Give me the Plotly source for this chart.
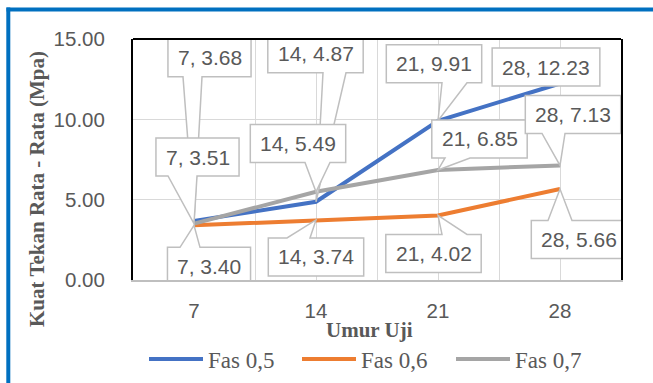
import plotly.graph_objects as go

# ---- data ----
umur = [7, 14, 21, 28]
fas_05 = [3.68, 4.87, 9.91, 12.23]
fas_06 = [3.40, 3.74, 4.02, 5.66]
fas_07 = [3.51, 5.49, 6.85, 7.13]
series_names = ["Fas 0,5", "Fas 0,6", "Fas 0,7"]
y_ticks = [0, 5, 10, 15]

# ---- style ----
colors = ["#4472C4", "#ED7D31", "#A5A5A5"]
series_vals = [fas_05, fas_06, fas_07]

# plot area in pixels (653 x 383 page)
L, R, T, B = 133, 621, 39, 280
W, H = 653, 383
def px(x):
    return (x - L) / (R - L)
def py(y):
    return (B - y) / (B - T)

# label offsets (dx right, dy up) of box centre from the point, wedge base x range
label_pos = [
    # Fas 0,5
    [(15.5, 163, -11, 8), (-0.5, 148, 7, 30), (-4, 57, 4, 29), (-14, 16.5, None, None)],
    # Fas 0,6
    [(15, -41, -14, 6), (0, -37, -29, -6), (-4.5, -38, 4, 29), (19, -50.5, -12, 12)],
    # Fas 0,7
    [(3.5, 66.6, -26, 3), (-18, 48.3, -11, 14), (41.5, 31, 7, 32), (13, 51, -18, 5)],
]
BOX_H = 38
LBL_FONT = dict(family="Liberation Sans", size=21, color="#595959")
TICK_FONT = dict(family="Liberation Sans", size=20.5, color="#595959")


def callout_path(dx, dy, w, h, b0, b1):
    xl, xr = dx - w / 2, dx + w / 2
    yt, yb = dy + h / 2, dy - h / 2
    if b0 is None:
        return f"M{xl},{yt} L{xr},{yt} L{xr},{yb} L{xl},{yb} Z"
    if dy > 0:  # box above the point, wedge from bottom edge
        return (f"M{xl},{yt} L{xr},{yt} L{xr},{yb} L{b1},{yb} L0,0 "
                f"L{b0},{yb} L{xl},{yb} Z")
    # box below the point, wedge from top edge
    return (f"M{xl},{yt} L{b0},{yt} L0,0 L{b1},{yt} L{xr},{yt} "
            f"L{xr},{yb} L{xl},{yb} Z")


fig = go.Figure()
for name, vals, col in zip(series_names, series_vals, colors):
    fig.add_trace(go.Scatter(x=umur, y=vals, mode="lines", name=name,
                             line=dict(color=col, width=4), showlegend=False))

shapes = []
annotations = []
for si, vals in enumerate(series_vals):
    for xi, (xv, v) in enumerate(zip(umur, vals)):
        dx, dy, b0, b1 = label_pos[si][xi]
        text = f"{xv}, {v:.2f}"
        bw = 12.3 * len(text) - 3
        shapes.append(dict(type="path", xref="x", yref="y",
                           xsizemode="pixel", ysizemode="pixel",
                           xanchor=xv, yanchor=v,
                           path=callout_path(dx, dy, bw, BOX_H, b0, b1),
                           line=dict(color="#BFBFBF", width=1.5),
                           fillcolor="white", layer="above"))
        annotations.append(dict(x=xv, y=v, xref="x", yref="y", text=text,
                                showarrow=False, xshift=dx, yshift=dy,
                                xanchor="center", yanchor="middle",
                                font=LBL_FONT))

# top border of plot area
shapes.append(dict(type="line", xref="paper", yref="paper", x0=0, x1=1, y0=1, y1=1,
                   line=dict(color="black", width=2)))
# outer blue frame (top and left visible)
shapes.append(dict(type="line", xref="paper", yref="paper", x0=px(6.5), x1=px(700),
                   y0=py(9.5), y1=py(9.5), line=dict(color="#0070C0", width=4)))
shapes.append(dict(type="line", xref="paper", yref="paper", x0=px(8.3), x1=px(8.3),
                   y0=py(7.5), y1=py(420), line=dict(color="#0070C0", width=4)))

# axis titles
annotations.append(dict(x=px(37), y=py(189), xref="paper", yref="paper",
                        text="<b>Kuat Tekan Rata - Rata (Mpa)</b>", textangle=-90,
                        showarrow=False, xanchor="center", yanchor="middle",
                        font=dict(family="Liberation Serif", size=21, color="#595959")))
annotations.append(dict(x=px(369), y=py(330), xref="paper", yref="paper",
                        text="<b>Umur Uji</b>", showarrow=False,
                        xanchor="center", yanchor="middle",
                        font=dict(family="Liberation Serif", size=21, color="#595959")))

# legend (drawn manually to match the long line samples)
leg_x = [149, 302, 456]
for name, col, lx in zip(series_names, colors, leg_x):
    shapes.append(dict(type="line", xref="paper", yref="paper",
                       x0=px(lx), x1=px(lx + 54), y0=py(359), y1=py(359),
                       line=dict(color=col, width=4)))
    annotations.append(dict(x=px(lx + 57), y=py(360), xref="paper", yref="paper",
                            text=name, showarrow=False, xanchor="left", yanchor="middle",
                            font=dict(family="Liberation Serif", size=23, color="#595959")))

fig.update_layout(
    width=W, height=H,
    margin=dict(l=L, r=W - R, t=T, b=H - B, pad=0),
    paper_bgcolor="white", plot_bgcolor="white",
    shapes=shapes, annotations=annotations,
    showlegend=False,
    xaxis=dict(range=[3.5, 31.5], tickmode="array", tickvals=umur,
               ticktext=[str(u) for u in umur],
               showgrid=True, gridcolor="#D9D9D9", gridwidth=1,
               minor=dict(tickmode="array", tickvals=[10.5, 17.5, 24.5],
                          showgrid=True, gridcolor="#D9D9D9", gridwidth=1),
               showline=True, linecolor="#BFBFBF", linewidth=2,
               zeroline=False, ticks="", tickfont=TICK_FONT,
               ticklabelstandoff=11, fixedrange=True),
    yaxis=dict(range=[0, 15], tickmode="array", tickvals=y_ticks,
               tickformat=".2f",
               showgrid=True, gridcolor="#D9D9D9", gridwidth=1,
               showline=True, linecolor="black", linewidth=2, mirror=True,
               zeroline=False, ticks="", tickfont=TICK_FONT,
               ticklabelstandoff=22, fixedrange=True),
)

fig.write_html("out.html")
